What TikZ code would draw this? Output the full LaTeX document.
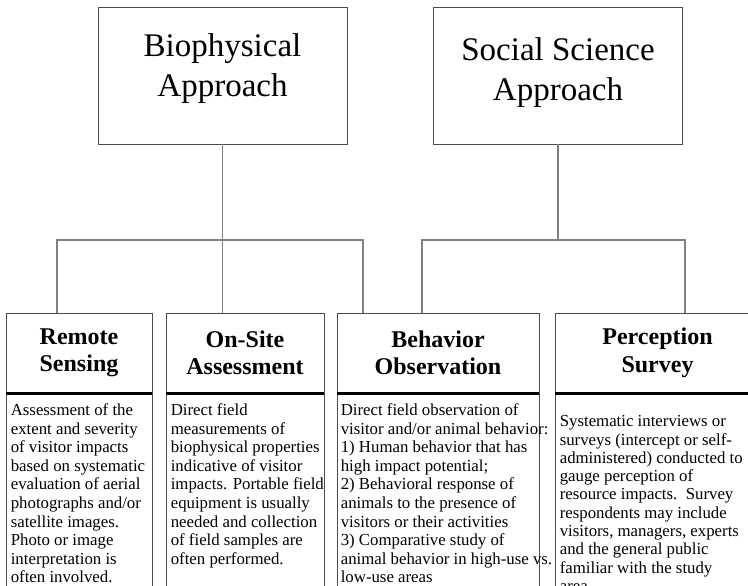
\documentclass[tikz,border=0pt]{standalone}
\usepackage{fontspec}
\setmainfont{Liberation Serif}
\usetikzlibrary{positioning}
\definecolor{boxline}{gray}{0.3}
\definecolor{linkline}{gray}{0.5}
\tikzset{
  approach/.style={draw=boxline, line width=0.8pt, minimum width=249pt,
    minimum height=137pt},
  approachtext/.style={align=center, font=\fontsize{33}{40}\selectfont},
  method/.style={draw=boxline, line width=0.8pt, minimum height=80pt,
    align=center, inner sep=0pt, font=\bfseries\fontsize{24}{27.5}\selectfont},
  detailbox/.style={draw=boxline, line width=0.8pt, anchor=north, inner sep=0pt,
    minimum height=220pt},
  detail/.style={anchor=north west, align=left, inner xsep=5pt, inner ysep=0pt,
    font=\fontsize{16.8}{18.6}\selectfont},
  link/.style={draw=linkline, line width=1.2pt},
  headrule/.style={line width=2.5pt}
}
\begin{document}
\begin{tikzpicture}[x=1pt,y=-1pt]
      \clip (0,0) rectangle (748,586);
      % two approaches
      \node[approach] (bio) at (222.5,75.5) {};
      \node[approach] (soc) at (558,75.5) {};
      \node[approachtext] (bioT) at ([yshift=7pt]bio.center) {Biophysical\\Approach};
      \node[approachtext] (socT) at ([yshift=3pt]soc.center) {Social Science\\Approach};
      % method headers
      \node[method, minimum width=146pt] (remote) at (79,353) {Remote\\Sensing};
      \node[method, minimum width=158pt] (onsite) at (245,353) {On-Site\\Assessment};
      \node[method, minimum width=202pt] (behav) at (438,353) {Behavior\\Observation};
      \node[method, minimum width=205pt] (percep) at (657.5,353) {Perception\\Survey};
      % description frames, open at the bottom of the page
      \node[detailbox, minimum width=146pt] (remoteB) at (remote.south) {};
      \node[detailbox, minimum width=158pt] (onsiteB) at (onsite.south) {};
      \node[detailbox, minimum width=202pt] (behavB) at (behav.south) {};
      \node[detailbox, minimum width=205pt] (percepB) at (percep.south) {};
      % method descriptions
      \node[detail] (remoteT) at ([yshift=-10pt]remoteB.north west)
        {Assessment of the\\extent and severity\\of visitor impacts\\based on systematic\\
         evaluation of aerial\\photographs and/or\\satellite images.\\Photo or image\\
         interpretation is\\often involved.};
      \node[detail] (onsiteT) at ([yshift=-10pt]onsiteB.north west)
        {Direct field\\measurements of\\biophysical properties\\indicative of visitor\\
         impacts. Portable field\\equipment is usually\\needed and collection\\
         of field samples are\\often performed.};
      \node[detail, inner xsep=4pt] (behavT) at ([yshift=-10pt]behavB.north west)
        {Direct field observation of\\visitor and/or animal behavior:\\1) Human behavior that has\\
         high impact potential;\\2) Behavioral response of\\animals to the presence of\\
         visitors or their activities\\3) Comparative study of\\animal behavior in high-use vs.\\
         low-use areas};
      \node[detail, font=\fontsize{16.8}{18.3}\selectfont] (percepT)
        at ([yshift=-22pt]percepB.north west)
        {Systematic interviews or\\surveys (intercept or self-\\administered) conducted to\\
         gauge perception of\\resource impacts.\ \ Survey\\respondents may include\\
         visitors, managers, experts\\and the general public\\familiar with the study\\area};
      \foreach \m in {remote,onsite,behav,percep}
        \draw[headrule] (\m.south west) -- (\m.south east);
      % connectors
      \coordinate (bioL) at (57,240);
      \coordinate (bioR) at (363,240);
      \coordinate (socL) at (422,240);
      \coordinate (socR) at (685,240);
      \draw[link] (bio.south) -- (bio.south |- onsite.north);
      \draw[link] (soc.south) -- (soc.south |- socL);
      \draw[link] (remote.north -| bioL) |- (bioR) -- (bioR |- behav.north);
      \draw[link] (behav.north -| socL) |- (socR) -- (socR |- percep.north);
    \end{tikzpicture}
\end{document}
